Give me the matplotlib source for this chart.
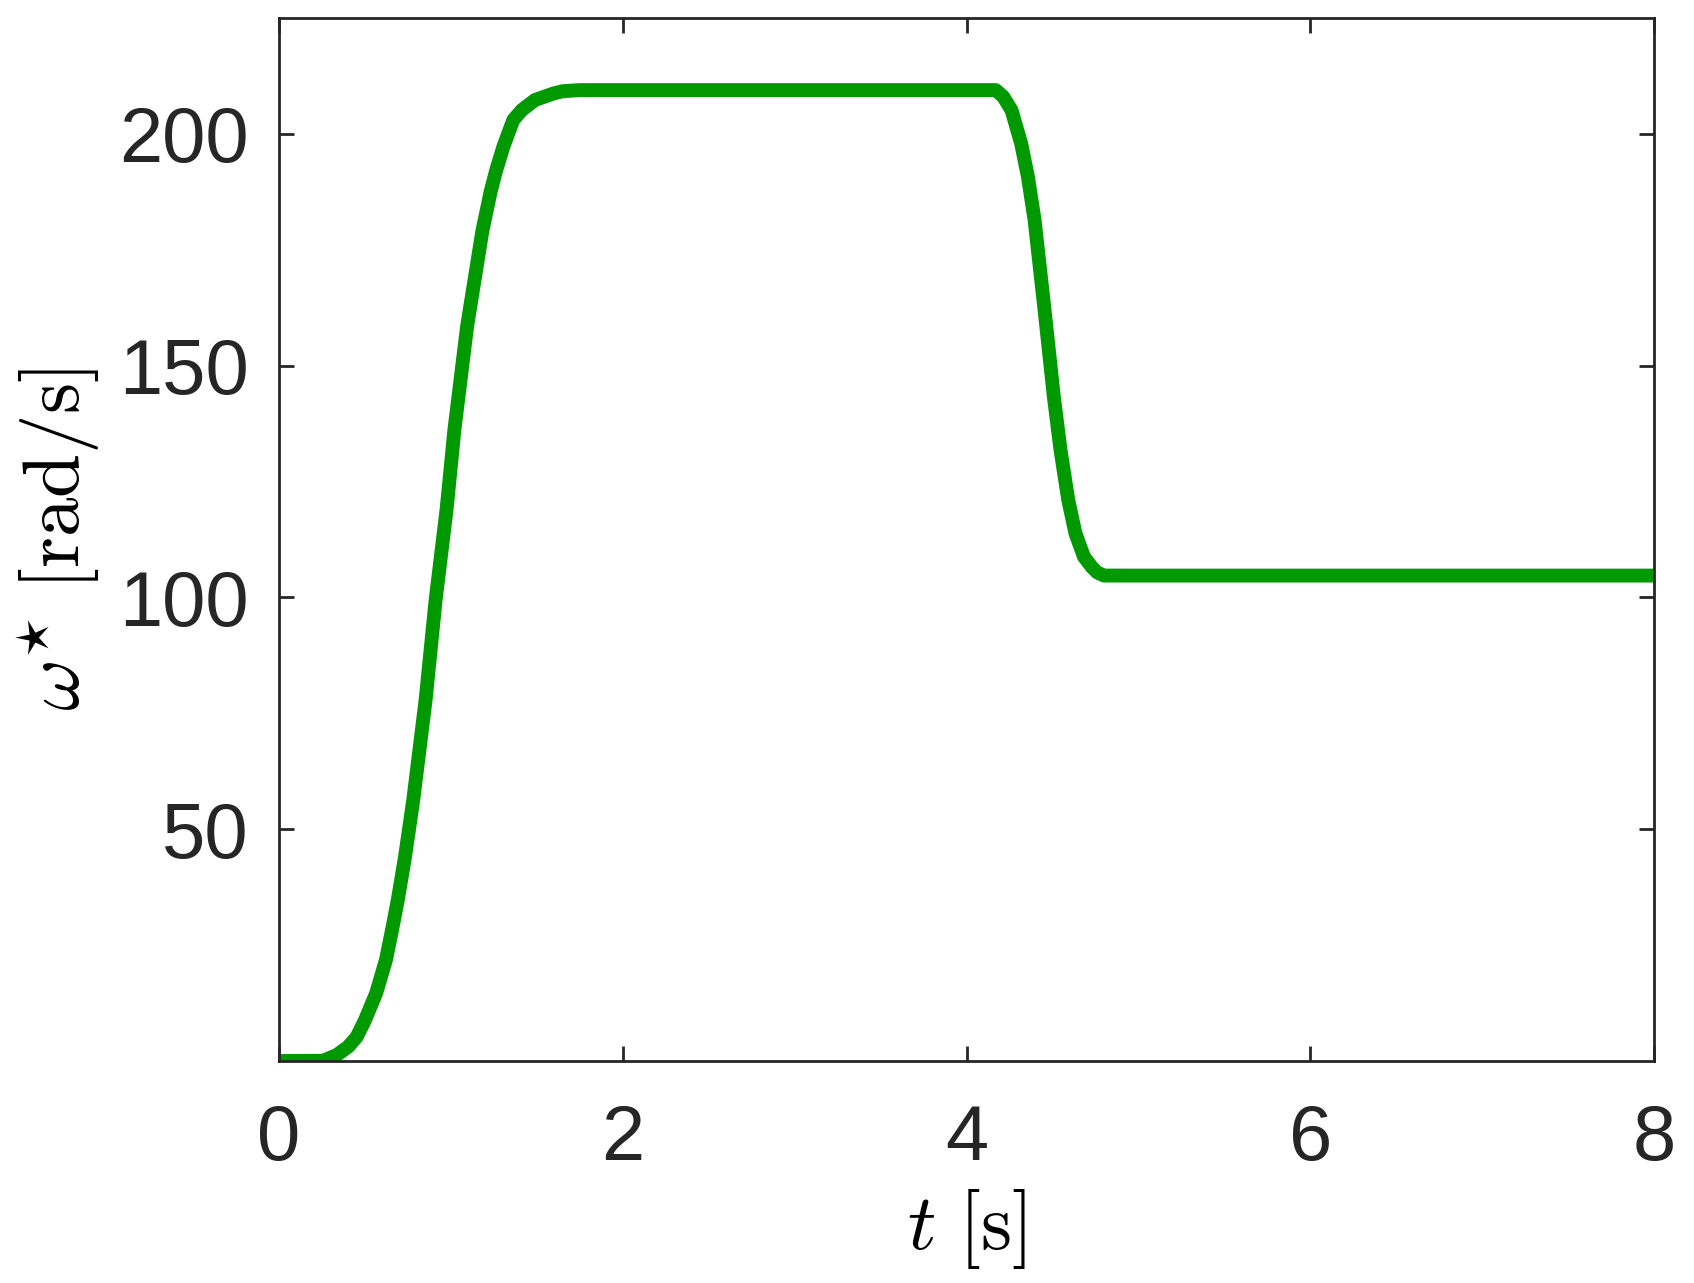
import matplotlib.pyplot as plt

plt.rcParams['font.family'] = ['Liberation Sans', 'DejaVu Sans']
plt.rcParams['mathtext.fontset'] = 'cm'

# speed reference
t = [0.0, 0.256, 0.336, 0.403, 0.452, 0.500, 0.565, 0.622, 0.656, 0.690, 0.733,
     0.781, 0.853, 0.911, 0.975, 1.02, 1.094, 1.183, 1.231, 1.264, 1.305, 1.363,
     1.412, 1.489, 1.596, 1.65, 1.75, 4.17, 4.214, 4.262, 4.318, 4.357, 4.396,
     4.454, 4.508, 4.547, 4.592, 4.634, 4.683, 4.728, 4.76, 4.8, 8.0]
w = [0.0, 0.06, 1.3, 3.1, 5.2, 8.8, 14.6, 21.8, 28.0, 34.5, 44.0,
     56.3, 77.9, 99.4, 119.0, 136.0, 158.4, 179.0, 187.5, 192.2, 197.2, 203.0,
     205.1, 207.3, 208.7, 209.2, 209.44, 209.44, 208.0, 205.1, 197.9, 190.8, 181.4,
     162.0, 143.3, 131.8, 121.0, 113.8, 108.8, 106.6, 105.4, 104.72, 104.72]

xticks = [0, 2, 4, 6, 8]
yticks = [50, 100, 150, 200]

dark = '#262626'
fig = plt.figure(figsize=(16.94, 12.83), dpi=100)
ax = fig.add_axes([0.1647, 0.173, 0.8117, 0.813])
ax.plot(t, w, color='#009900', linewidth=10, solid_joinstyle='round')

ax.set_xlim(0, 8)
ax.set_ylim(0, 225)
ax.set_xticks(xticks)
ax.set_yticks(yticks)
ax.tick_params(direction='in', length=11, width=2, colors=dark, labelsize=56,
               top=True, right=True)
ax.tick_params(axis='x', pad=30)
ax.tick_params(axis='y', pad=22)
for s in ax.spines.values():
    s.set_color(dark)
    s.set_linewidth(2)

ax.set_xlabel(r'$t\ [\mathrm{s}]$', fontsize=57, color='black', labelpad=8)
ax.set_ylabel(r'$\omega^{\star}\ [\mathrm{rad/s}]$', fontsize=57, color='black', labelpad=12)

fig.savefig('out.png', dpi=100)
